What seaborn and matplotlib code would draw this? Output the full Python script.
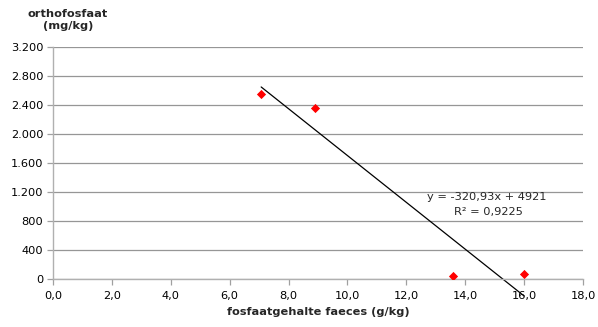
import matplotlib
matplotlib.use("Agg")
import matplotlib.pyplot as plt
import seaborn as sns
import numpy as np
import pandas as pd
from matplotlib.ticker import FuncFormatter

# data
fosfaat = [7.07, 8.91, 13.57, 16.0]
orthofosfaat = [2545, 2358, 46, 70]
x_ticks = [0, 2, 4, 6, 8, 10, 12, 14, 16, 18]
y_ticks = [0, 400, 800, 1200, 1600, 2000, 2400, 2800, 3200]
eq_text = "y = -320,93x + 4921"
r2_text = "R² = 0,9225"

sns.set_theme(style="white")
plt.rcParams['font.family'] = ['DejaVu Sans']
FS = 8.2

df = pd.DataFrame({"x": fosfaat, "y": orthofosfaat})

fig = plt.figure(figsize=(5.98, 3.27), dpi=100)
ax = fig.add_axes([53/598, 1 - 279/327, (583-53)/598, (279-47)/327])

sns.scatterplot(data=df, x="x", y="y", ax=ax, marker="D", color="#ff0000",
                s=22, edgecolor="#ff0000", linewidth=0, zorder=3)

slope, intercept = np.polyfit(df["x"], df["y"], 1)
xl = np.array([df["x"].min(), df["x"].max()])
ax.plot(xl, slope * xl + intercept, color="black", lw=0.9, zorder=2, clip_on=False)

ax.set_xlim(0, 18)
ax.set_ylim(0, 3200)
ax.set_xticks(x_ticks)
ax.set_yticks(y_ticks)
ax.xaxis.set_major_formatter(FuncFormatter(lambda v, p: f"{v:.1f}".replace(".", ",")))
ax.yaxis.set_major_formatter(FuncFormatter(lambda v, p: f"{int(v):,}".replace(",", ".")))

ax.grid(axis="y", color="#969696", lw=0.9)
ax.grid(axis="x", visible=False)
for s in ["top", "right"]:
    ax.spines[s].set_visible(False)
for s in ["left", "bottom"]:
    ax.spines[s].set_color("#b0b0b0")
    ax.spines[s].set_linewidth(1.0)
ax.tick_params(axis="both", which="major", direction="out", length=4, width=0.9,
               color="#a0a0a0", labelsize=FS, labelcolor="black",
               bottom=True, left=True)
ax.tick_params(axis="x", pad=4.5)
ax.tick_params(axis="y", pad=3)
ax.set_axisbelow(True)

ax.set_xlabel("fosfaatgehalte faeces (g/kg)", fontsize=FS, fontweight="bold", labelpad=4.5)
ax.set_ylabel("")
fig.text(68/598, 1 - 20/327, "orthofosfaat\n(mg/kg)", ha="center", va="center",
         fontsize=FS, fontweight="bold", linespacing=1.35)

fig.text(427/598, 1 - 197/327, eq_text, fontsize=FS, ha="left", va="center")
fig.text(454/598, 1 - 212/327, r2_text, fontsize=FS, ha="left", va="center")

fig.savefig("out.png", dpi=100)
